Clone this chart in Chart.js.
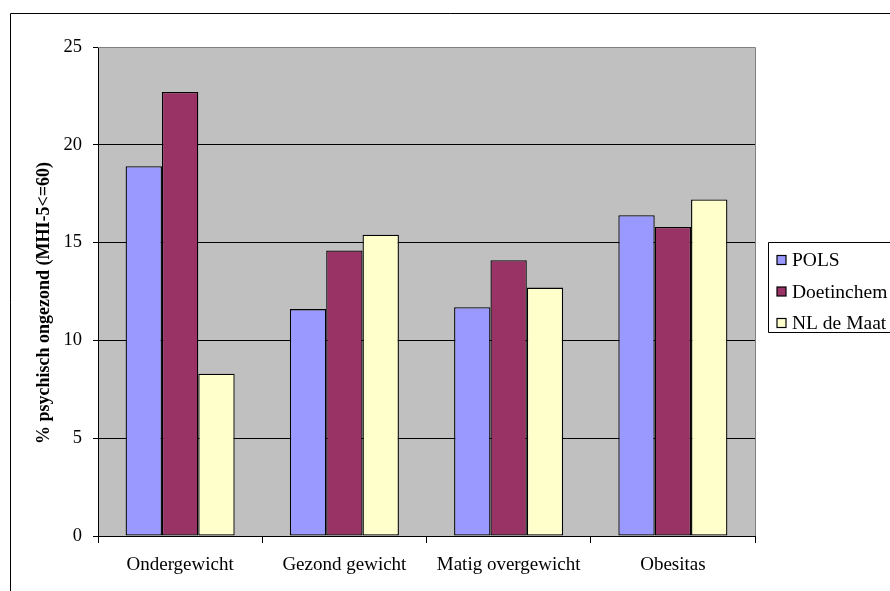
<!DOCTYPE html>
<html>
<head>
<meta charset="utf-8">
<script src="https://cdn.jsdelivr.net/npm/chart.js@4/dist/chart.umd.min.js"></script>
<style>
  html, body { margin: 0; padding: 0; background: #ffffff; }
  #wrap { position: relative; width: 890px; height: 591px; }
</style>
</head>
<body>
<div id="wrap"><canvas id="c" width="890" height="591"></canvas></div>
<script>
// Weight classes on the x axis
const categories = ['Ondergewicht', 'Gezond gewicht', 'Matig overgewicht', 'Obesitas'];

// Share of respondents scoring MHI-5 <= 60, per survey
const polsValues = [18.9, 11.6, 11.7, 16.4];
const doetinchemValues = [22.7, 14.6, 14.1, 15.8];
const nlDeMaatValues = [8.3, 15.4, 12.7, 17.2];

const seriesNames = ['POLS', 'Doetinchem', 'NL de Maat'];
const yTicks = [0, 5, 10, 15, 20, 25];
const yTitle = '% psychisch ongezond (MHI-5<=60)';

const FONT = '"Liberation Serif", "Times New Roman", serif';

// Plot frame, outer border, axis title and boxed legend
const framePlugin = {
  id: 'frame',
  beforeDraw(chart) {
    const { ctx, chartArea: a } = chart;
    ctx.save();
    ctx.fillStyle = '#c0c0c0';
    ctx.fillRect(a.left, a.top, a.right - a.left, a.bottom - a.top);
    ctx.restore();
  },
  afterDraw(chart) {
    const { ctx, chartArea: a } = chart;
    ctx.save();
    // gray frame on top and right of the plot
    ctx.strokeStyle = '#808080';
    ctx.lineWidth = 1;
    ctx.beginPath();
    ctx.moveTo(a.left, a.top + 0.5);
    ctx.lineTo(a.right + 0.5, a.top + 0.5);
    ctx.lineTo(a.right + 0.5, a.bottom);
    ctx.stroke();

    // outer chart border
    ctx.strokeStyle = '#000000';
    ctx.beginPath();
    ctx.moveTo(10.5, 591);
    ctx.lineTo(10.5, 13.5);
    ctx.lineTo(890, 13.5);
    ctx.stroke();

    // vertical axis title, centred on the whole chart height
    ctx.save();
    ctx.translate(44, 303);
    ctx.rotate(-Math.PI / 2);
    ctx.font = 'bold 18px ' + FONT;
    ctx.fillStyle = '#000';
    ctx.textAlign = 'center';
    ctx.textBaseline = 'middle';
    ctx.fillText(yTitle, 0, 0);
    ctx.restore();

    // legend
    const lx = 768.5, ly = 242.5, lh = 90;
    ctx.beginPath();
    ctx.moveTo(890, ly);
    ctx.lineTo(lx, ly);
    ctx.lineTo(lx, ly + lh);
    ctx.lineTo(890, ly + lh);
    ctx.stroke();
    ctx.font = '19.5px ' + FONT;
    ctx.textBaseline = 'middle';
    chart.data.datasets.forEach((ds, i) => {
      const cy = 260 + i * 31.5;
      ctx.fillStyle = ds.backgroundColor;
      ctx.fillRect(777, cy - 4.5, 9, 9);
      ctx.strokeStyle = '#000';
      ctx.lineWidth = 1.2;
      ctx.strokeRect(777, cy - 4.5, 9, 9);
      ctx.fillStyle = '#000';
      ctx.fillText(ds.label, 792, cy + 1);
    });
    ctx.restore();
  }
};

new Chart(document.getElementById('c'), {
  type: 'bar',
  data: {
    labels: categories,
    datasets: [
      { label: seriesNames[0], data: polsValues, backgroundColor: '#9999ff' },
      { label: seriesNames[1], data: doetinchemValues, backgroundColor: '#993366' },
      { label: seriesNames[2], data: nlDeMaatValues, backgroundColor: '#ffffcc' }
    ].map(d => Object.assign(d, {
      borderColor: '#000000',
      borderWidth: 1.3,
      borderSkipped: false,
      categoryPercentage: 0.664,
      barPercentage: 1.0
    }))
  },
  options: {
    responsive: false,
    animation: false,
    events: [],
    layout: { padding: { top: 47, right: 135, left: 0, bottom: 0 } },
    plugins: {
      legend: { display: false },
      tooltip: { enabled: false }
    },
    scales: {
      x: {
        offset: true,
        grid: {
          offset: true,
          drawOnChartArea: false,
          drawTicks: true,
          tickLength: 7,
          tickColor: '#000'
        },
        border: { color: '#000', width: 1 },
        ticks: {
          color: '#000',
          font: { family: FONT, size: 19 },
          padding: 11,
          maxRotation: 0
        },
        afterFit(scale) { scale.height = 55; }
      },
      y: {
        min: 0,
        max: 25,
        afterBuildTicks(scale) { scale.ticks = yTicks.map(v => ({ value: v })); },
        grid: {
          color: ctx => (ctx.tick && ctx.tick.value === 25 ? '#808080' : '#000'),
          tickColor: '#000',
          tickLength: 5,
          lineWidth: 1
        },
        border: { color: '#000', width: 1 },
        ticks: {
          color: '#000',
          font: { family: FONT, size: 18.5 },
          padding: 11
        },
        afterFit(scale) { scale.width = 98; }
      }
    }
  },
  plugins: [framePlugin]
});
</script>
</body>
</html>
